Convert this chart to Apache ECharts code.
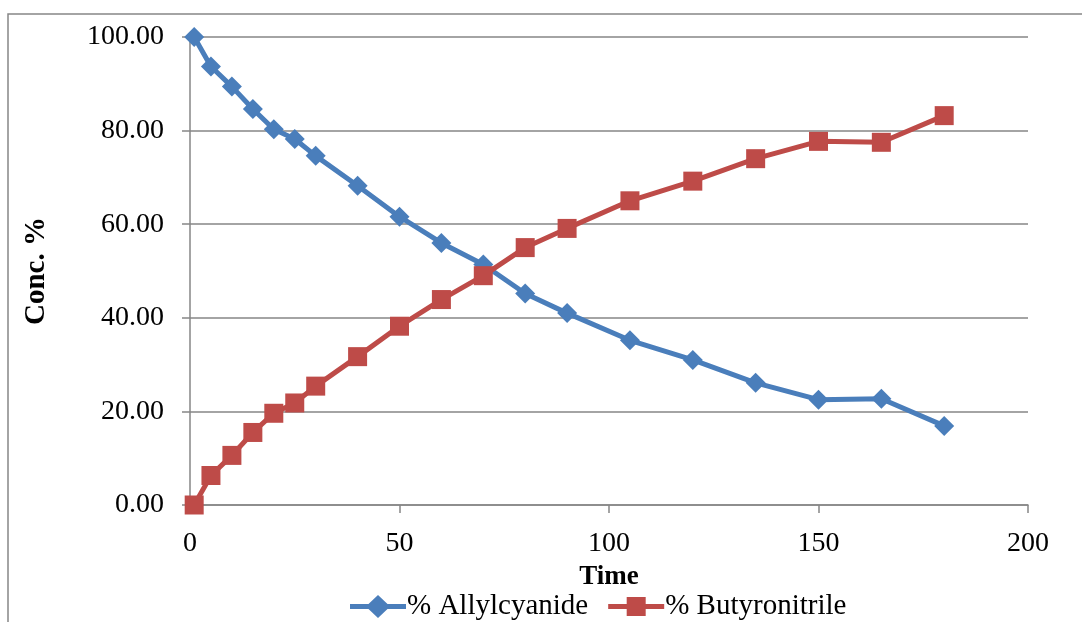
<!DOCTYPE html>
<html>
<head>
<meta charset="utf-8">
<script src="https://cdn.jsdelivr.net/npm/echarts@6/dist/echarts.min.js"></script>
<style>
  html, body { margin: 0; padding: 0; background: #ffffff; }
  #chart { width: 1082px; height: 622px; }
</style>
</head>
<body>
<div id="chart"></div>
<script>
// Sampling times (x) and concentrations (%) for the two nitriles
const times = [1, 5, 10, 15, 20, 25, 30, 40, 50, 60, 70, 80, 90, 105, 120, 135, 150, 165, 180];
const allylcyanide = [100.0, 93.7, 89.4, 84.6, 80.3, 78.2, 74.6, 68.2, 61.6, 56.0, 51.4, 45.2, 41.0, 35.2, 31.0, 26.1, 22.5, 22.7, 16.9];
const butyronitrile = [0.0, 6.3, 10.6, 15.5, 19.6, 21.8, 25.4, 31.7, 38.2, 43.9, 49.0, 55.0, 59.1, 65.0, 69.2, 74.0, 77.7, 77.5, 83.2];
const seriesNames = ['% Allylcyanide', '% Butyronitrile'];

const FONT = '"Liberation Serif", "Times New Roman", serif';
const GREY = '#868686';
const BLUE = '#4A7EBB';
const RED = '#BE4B48';

// Legend keys: a thick line segment with the series marker in the middle
const ICON_DIAMOND = 'path://M0,9.5 L18.5,9.5 L28,0.5 L37.5,9.5 L56,9.5 L56,14.5 L37.5,14.5 L28,23.5 L18.5,14.5 L0,14.5 Z';
const ICON_SQUARE = 'path://M0,9.5 L18.5,9.5 L18.5,2.5 L37.5,2.5 L37.5,9.5 L56,9.5 L56,14.5 L37.5,14.5 L37.5,21.5 L18.5,21.5 L18.5,14.5 L0,14.5 Z';

const pairs = (xs, ys) => xs.map((x, i) => [x, ys[i]]);

const chart = echarts.init(document.getElementById('chart'), null, { renderer: 'canvas' });
chart.setOption({
  animation: false,
  backgroundColor: '#ffffff',
  textStyle: { fontFamily: FONT, color: '#000' },
  graphic: [{
    type: 'rect',
    shape: { x: 8, y: 14, width: 1200, height: 800 },
    style: { fill: 'none', stroke: GREY, lineWidth: 1.5 },
    silent: true
  }],
  grid: { left: 190, right: 54, top: 37, bottom: 117 },
  legend: {
    left: 345, top: 587,
    itemWidth: 56, itemHeight: 24, itemGap: 20,
    textStyle: { fontFamily: FONT, fontSize: 29, color: '#000', padding: [0, 0, 0, -4] },
    data: [
      { name: seriesNames[0], icon: ICON_DIAMOND },
      { name: seriesNames[1], icon: ICON_SQUARE }
    ]
  },
  xAxis: {
    type: 'value', min: 0, max: 200, interval: 50,
    name: 'Time', nameLocation: 'middle', nameGap: 59,
    nameTextStyle: { fontFamily: FONT, fontSize: 27, fontWeight: 'bold', color: '#000' },
    axisLine: { show: true, lineStyle: { color: GREY, width: 1.5 } },
    axisTick: { show: true, length: 8, lineStyle: { color: GREY, width: 1.5 } },
    axisLabel: { fontFamily: FONT, fontSize: 28, color: '#000', margin: 25 },
    splitLine: { show: false }
  },
  yAxis: {
    type: 'value', min: 0, max: 100, interval: 20,
    name: 'Conc. %', nameLocation: 'middle', nameGap: 139, nameRotate: 90,
    nameTextStyle: { fontFamily: FONT, fontSize: 29, fontWeight: 'bold', color: '#000' },
    axisLine: { show: true, lineStyle: { color: GREY, width: 1.5 } },
    axisTick: { show: true, length: 8, lineStyle: { color: GREY, width: 1.5 } },
    axisLabel: { fontFamily: FONT, fontSize: 28, color: '#000', margin: 26,
                 formatter: v => v.toFixed(2) },
    splitLine: { show: true, lineStyle: { color: GREY, width: 1.5 } }
  },
  series: [
    {
      name: seriesNames[0], type: 'line', data: pairs(times, allylcyanide),
      symbol: 'diamond', symbolSize: 20,
      lineStyle: { color: BLUE, width: 5 },
      itemStyle: { color: BLUE },
      z: 3
    },
    {
      name: seriesNames[1], type: 'line', data: pairs(times, butyronitrile),
      symbol: 'rect', symbolSize: 19,
      lineStyle: { color: RED, width: 5 },
      itemStyle: { color: RED },
      z: 4
    }
  ]
});
</script>
</body>
</html>
